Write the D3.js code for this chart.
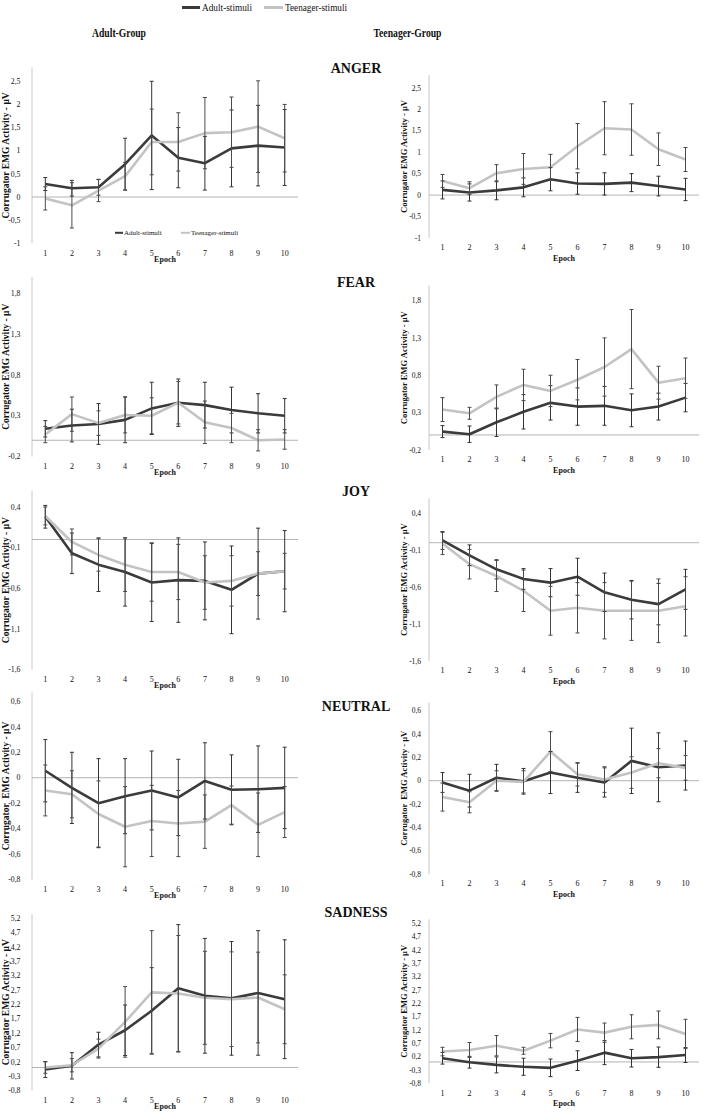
<!DOCTYPE html>
<html><head><meta charset="utf-8">
<script src="https://cdn.jsdelivr.net/npm/d3@7"></script>
<style>
body{margin:0;background:#fff}
svg{display:block}
text{font-family:"Liberation Serif","Times New Roman",serif;fill:#111}
</style>
</head><body>
<svg id="chart" width="703" height="1112"></svg>
<script>
// ---------------- DATA ----------------
const epochs = ["1","2","3","4","5","6","7","8","9","10"];
const seriesNames = ["Adult-stimuli","Teenager-stimuli"];
const groupNames = ["Adult-Group","Teenager-Group"];
const emotions = ["ANGER","FEAR","JOY","NEUTRAL","SADNESS"];
const yAxisTitle = "Corrugator EMG Activity - µV";
const yAxisTitleNeutral = "Corrugator  EMG Activity - µV";
const xAxisTitle = "Epoch";

// tick labels per emotion
const angerTicks   = [-1,-0.5,0,0.5,1,1.5,2,2.5];
const fearTicks    = [-0.2,0.3,0.8,1.3,1.8];
const joyTicks     = [-1.6,-1.1,-0.6,-0.1,0.4];
const neutralTicks = [-0.8,-0.6,-0.4,-0.2,0,0.2,0.4,0.6];
const sadnessTicks = [-0.8,-0.3,0.2,0.7,1.2,1.7,2.2,2.7,3.2,3.7,4.2,4.7,5.2];

// ANGER
const angerAG_adult     = [0.28,0.19,0.21,0.71,1.33,0.85,0.73,1.05,1.11,1.07];
const angerAG_adultErr  = [0.14,0.17,0.17,0.56,1.17,0.65,0.58,0.83,0.87,0.82];
const angerAG_teen      = [-0.03,-0.18,0.14,0.45,1.19,1.19,1.38,1.40,1.52,1.27];
const angerAG_teenErr   = [0.25,0.49,0.24,0.30,0.71,0.63,0.77,0.76,0.99,0.73];
const angerTG_adult     = [0.12,0.06,0.11,0.18,0.37,0.27,0.26,0.29,0.21,0.13];
const angerTG_adultErr  = [0.21,0.20,0.22,0.22,0.27,0.25,0.26,0.21,0.23,0.26];
const angerTG_teen      = [0.33,0.16,0.51,0.61,0.65,1.14,1.56,1.53,1.07,0.83];
const angerTG_teenErr   = [0.15,0.15,0.20,0.36,0.30,0.53,0.62,0.60,0.38,0.28];
// FEAR
const fearAG_adult      = [0.14,0.18,0.20,0.25,0.39,0.46,0.43,0.37,0.33,0.30];
const fearAG_adultErr   = [0.10,0.20,0.25,0.28,0.32,0.29,0.28,0.28,0.24,0.21];
const fearAG_teen       = [0.07,0.32,0.21,0.31,0.30,0.46,0.22,0.15,0.00,0.01];
const fearAG_teenErr    = [0.10,0.21,0.15,0.22,0.22,0.26,0.26,0.18,0.13,0.12];
const fearTG_adult      = [0.045,0.01,0.17,0.31,0.43,0.38,0.39,0.33,0.38,0.50];
const fearTG_adultErr   = [0.08,0.11,0.19,0.23,0.23,0.25,0.26,0.22,0.18,0.19];
const fearTG_teen       = [0.34,0.29,0.51,0.67,0.59,0.74,0.91,1.15,0.70,0.76];
const fearTG_teenErr    = [0.16,0.08,0.16,0.21,0.21,0.27,0.39,0.53,0.22,0.27];
// JOY
const joyAG_adult       = [0.28,-0.17,-0.31,-0.40,-0.53,-0.50,-0.51,-0.62,-0.42,-0.39];
const joyAG_adultErr    = [0.14,0.25,0.33,0.42,0.48,0.52,0.48,0.54,0.56,0.50];
const joyAG_teen        = [0.29,-0.03,-0.19,-0.31,-0.40,-0.40,-0.53,-0.51,-0.42,-0.39];
const joyAG_teenErr     = [0.11,0.16,0.20,0.33,0.36,0.34,0.33,0.31,0.27,0.22];
const joyTG_adult       = [0.03,-0.17,-0.36,-0.49,-0.54,-0.46,-0.67,-0.77,-0.83,-0.63];
const joyTG_adultErr    = [0.12,0.14,0.13,0.14,0.19,0.25,0.26,0.26,0.28,0.27];
const joyTG_teen        = [-0.01,-0.29,-0.45,-0.65,-0.92,-0.88,-0.92,-0.92,-0.92,-0.86];
const joyTG_teenErr     = [0.15,0.20,0.21,0.28,0.33,0.34,0.38,0.40,0.43,0.40];
// NEUTRAL
const neutralAG_adult    = [0.055,-0.08,-0.20,-0.145,-0.10,-0.155,-0.025,-0.095,-0.09,-0.08];
const neutralAG_adultErr = [0.245,0.28,0.35,0.295,0.31,0.30,0.30,0.275,0.34,0.32];
const neutralAG_teen     = [-0.10,-0.13,-0.285,-0.385,-0.34,-0.36,-0.345,-0.215,-0.37,-0.27];
const neutralAG_teenErr  = [0.20,0.185,0.26,0.315,0.28,0.26,0.21,0.15,0.25,0.20];
const neutralTG_adult    = [-0.015,-0.085,0.025,-0.005,0.07,0.025,-0.015,0.17,0.115,0.13];
const neutralTG_adultErr = [0.085,0.14,0.115,0.11,0.18,0.125,0.125,0.28,0.295,0.21];
const neutralTG_teen     = [-0.14,-0.185,0.0,-0.01,0.25,0.055,0.01,0.07,0.15,0.11];
const neutralTG_teenErr  = [0.12,0.09,0.085,0.095,0.17,0.10,0.11,0.135,0.125,0.105];
// SADNESS
const sadnessAG_adult    = [-0.07,0.06,0.80,1.30,1.98,2.76,2.50,2.41,2.60,2.38];
const sadnessAG_adultErr = [0.28,0.46,0.43,0.88,1.50,2.22,2.00,1.98,2.17,2.07];
const sadnessAG_teen     = [0.0,0.08,0.66,1.59,2.62,2.58,2.43,2.38,2.44,2.03];
const sadnessAG_teenErr  = [0.20,0.23,0.33,1.23,2.15,2.02,1.62,1.65,1.58,1.20];
const sadnessTG_adult    = [0.14,-0.01,-0.11,-0.18,-0.22,0.05,0.35,0.14,0.18,0.26];
const sadnessTG_adultErr = [0.22,0.22,0.30,0.32,0.33,0.37,0.45,0.33,0.38,0.28];
const sadnessTG_teen     = [0.39,0.45,0.61,0.42,0.80,1.22,1.10,1.32,1.39,1.05];
const sadnessTG_teenErr  = [0.16,0.28,0.38,0.13,0.27,0.45,0.36,0.45,0.52,0.55];

// ---------------- LAYOUT (positions only) ----------------
const W = 703, H = 1112;
const colX = [[32, 298], [429, 699]];
const titleCX = 356;
const rowTitleY = [68, 282, 491, 706, 912];
// per row: y-domain and for each column [pixel of domain-min, pixel of domain-max]
const rowDomains = [[-1, 2.8], [-0.2, 2.0], [-1.6, 0.6], [-0.8, 0.67], [-0.8, 5.35]];
const rowRanges = [
  [[243.3, 67.4], [237.9, 75.1]],
  [[456.6, 276.9], [449.9, 285.6]],
  [[669.4, 490.8], [661.1, 498.3]],
  [[879.5, 692.5], [874.1, 702.5]],
  [[1090.5, 914], [1083.3, 919.3]]
];
const rowTicks = [angerTicks, fearTicks, joyTicks, neutralTicks, sadnessTicks];
const rowData = [
  [[angerAG_adult, angerAG_adultErr, angerAG_teen, angerAG_teenErr],
   [angerTG_adult, angerTG_adultErr, angerTG_teen, angerTG_teenErr]],
  [[fearAG_adult, fearAG_adultErr, fearAG_teen, fearAG_teenErr],
   [fearTG_adult, fearTG_adultErr, fearTG_teen, fearTG_teenErr]],
  [[joyAG_adult, joyAG_adultErr, joyAG_teen, joyAG_teenErr],
   [joyTG_adult, joyTG_adultErr, joyTG_teen, joyTG_teenErr]],
  [[neutralAG_adult, neutralAG_adultErr, neutralAG_teen, neutralAG_teenErr],
   [neutralTG_adult, neutralTG_adultErr, neutralTG_teen, neutralTG_teenErr]],
  [[sadnessAG_adult, sadnessAG_adultErr, sadnessAG_teen, sadnessAG_teenErr],
   [sadnessTG_adult, sadnessTG_adultErr, sadnessTG_teen, sadnessTG_teenErr]]
];

const DARK = "#3b3b3b", LIGHT = "#c3c3c3";
const ERR_DARK = "#333", ERR_LIGHT = "#4a4a4a";

const svg = d3.select("#chart");
svg.append("rect").attr("width", W).attr("height", H).attr("fill", "#fff");

const fmt = v => {
  const r = Math.round(v * 10) / 10;
  return (r === 0 ? "0" : String(r)).replace(".", ",");
};

// ---------- top legend ----------
const topLeg = svg.append("g");
[[182, 200, 202, DARK, 50], [264, 283, 285, LIGHT, 62]].forEach((d, i) => {
  topLeg.append("line").attr("x1", d[0]).attr("x2", d[1]).attr("y1", 7.5).attr("y2", 7.5)
    .attr("stroke", d[3]).attr("stroke-width", 3);
  topLeg.append("text").attr("x", d[2]).attr("y", 7.5).attr("dy", "0.35em")
    .attr("font-size", 11).attr("textLength", d[4]).attr("lengthAdjust", "spacingAndGlyphs")
    .text(seriesNames[i]);
});

// group headers
[[119, 54], [407.5, 68]].forEach((d, i) => {
  svg.append("text").attr("x", d[0]).attr("y", 32.5).attr("dy", "0.35em")
    .attr("text-anchor", "middle").attr("font-weight", "bold").attr("font-size", 11.5)
    .attr("textLength", d[1]).attr("lengthAdjust", "spacingAndGlyphs")
    .text(groupNames[i]);
});

// ---------- panels ----------
emotions.forEach((emo, r) => {
  svg.append("text").attr("x", titleCX).attr("y", rowTitleY[r]).attr("dy", "0.35em")
    .attr("text-anchor", "middle").attr("font-weight", "bold").attr("font-size", 14)
    .text(emo);

  [0, 1].forEach(c => {
    const g = svg.append("g");
    const x = d3.scaleBand().domain(epochs).range(colX[c]);
    const y = d3.scaleLinear().domain(rowDomains[r]).range(rowRanges[r][c]);
    const cx = d => x(d) + x.bandwidth() / 2;
    const [adult, adultErr, teen, teenErr] = rowData[r][c];
    const bottom = y(rowDomains[r][0]);
    const top = y(rowDomains[r][1]);
    const small = c === 1;

    // y axis line
    g.append("line").attr("x1", colX[c][0]).attr("x2", colX[c][0])
      .attr("y1", top).attr("y2", bottom).attr("stroke", "#c8c8c8").attr("stroke-width", 1);

    // y tick labels
    g.selectAll(".yt").data(rowTicks[r]).join("text")
      .attr("x", colX[c][0] - (small ? 8 : 11.5)).attr("y", d => y(d)).attr("dy", "0.35em")
      .attr("text-anchor", "end").attr("font-size", small ? 7.5 : 7.8).attr("fill", "#333")
      .text(fmt);

    // zero line (horizontal axis)
    g.append("line").attr("x1", colX[c][0]).attr("x2", colX[c][1])
      .attr("y1", y(0)).attr("y2", y(0)).attr("stroke", "#b3b3b3").attr("stroke-width", 1);

    // x tick labels
    g.selectAll(".xt").data(epochs).join("text")
      .attr("x", cx).attr("y", bottom + 9.5).attr("dy", "0.35em")
      .attr("text-anchor", "middle").attr("font-size", 8).attr("fill", "#333")
      .text(d => d);

    // x title
    g.append("text").attr("x", (colX[c][0] + colX[c][1]) / 2)
      .attr("y", bottom + (small ? 20 : 16)).attr("dy", "0.35em")
      .attr("text-anchor", "middle").attr("font-weight", "bold").attr("font-size", 8)
      .text(xAxisTitle);

    // y title
    const yc = (top + bottom) / 2;
    const tx = small ? 404 : 6;
    g.append("text").attr("transform", `translate(${tx},${yc}) rotate(-90)`)
      .attr("dy", "0.35em").attr("text-anchor", "middle")
      .attr("font-weight", "bold").attr("font-size", small ? 8.5 : 9.5)
      .style("white-space", "pre")
      .text(emo === "NEUTRAL" ? yAxisTitleNeutral : yAxisTitle);

    // lines
    const line = d3.line().x((d, i) => cx(epochs[i])).y(d => y(d));
    g.append("path").datum(adult).attr("d", line).attr("fill", "none")
      .attr("stroke", DARK).attr("stroke-width", 2.6).attr("stroke-linejoin", "round");
    g.append("path").datum(teen).attr("d", line).attr("fill", "none")
      .attr("stroke", LIGHT).attr("stroke-width", 2.6).attr("stroke-linejoin", "round");

    // error bars
    [[adult, adultErr, ERR_DARK], [teen, teenErr, ERR_LIGHT]].forEach(([m, e, col]) => {
      const eb = g.append("g").attr("stroke", col).attr("stroke-width", 1);
      epochs.forEach((ep, i) => {
        const xx = cx(ep), y1 = y(m[i] - e[i]), y2 = y(m[i] + e[i]);
        eb.append("line").attr("x1", xx).attr("x2", xx).attr("y1", y1).attr("y2", y2);
        eb.append("line").attr("x1", xx - 2).attr("x2", xx + 2).attr("y1", y1).attr("y2", y1);
        eb.append("line").attr("x1", xx - 2).attr("x2", xx + 2).attr("y1", y2).attr("y2", y2);
      });
    });

    // inner legend (only in Anger / Adult-Group)
    if (r === 0 && c === 0) {
      const ly = bottom - 10.5;
      const lg = g.append("g");
      [[115, 123, 124, DARK], [181, 190, 191, LIGHT]].forEach((d, i) => {
        lg.append("line").attr("x1", d[0]).attr("x2", d[1]).attr("y1", ly).attr("y2", ly)
          .attr("stroke", d[3]).attr("stroke-width", 2);
        lg.append("text").attr("x", d[2]).attr("y", ly).attr("dy", "0.35em")
          .attr("font-family", "'Liberation Sans', Arial, sans-serif").attr("font-size", 7)
          .attr("fill", "#333").text(seriesNames[i]);
      });
    }
  });
});
</script>
</body></html>
